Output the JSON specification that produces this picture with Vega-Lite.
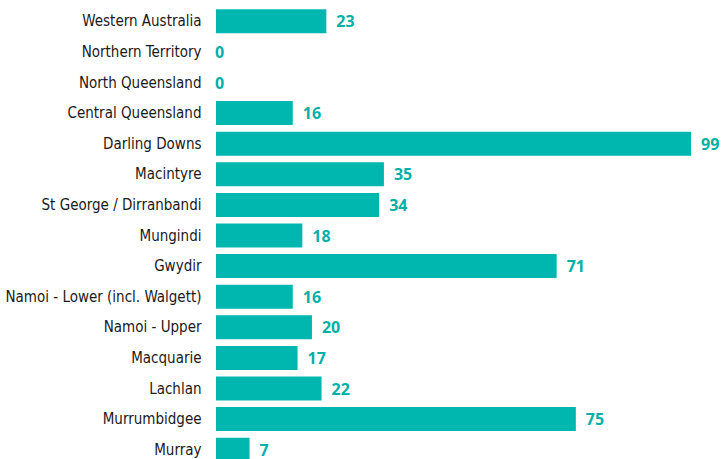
{
  "$schema": "https://vega.github.io/schema/vega-lite/v6.json",
  "width": 475,
  "height": 459,
  "autosize": {"type": "none"},
  "padding": {"left": 216, "top": 6, "right": 31, "bottom": 0},
  "background": "white",
  "config": {"view": {"stroke": null}},
  "data": {
    "values": [
      {"region": "Western Australia", "value": 23},
      {"region": "Northern Territory", "value": 0},
      {"region": "North Queensland", "value": 0},
      {"region": "Central Queensland", "value": 16},
      {"region": "Darling Downs", "value": 99},
      {"region": "Macintyre", "value": 35},
      {"region": "St George / Dirranbandi", "value": 34},
      {"region": "Mungindi", "value": 18},
      {"region": "Gwydir", "value": 71},
      {"region": "Namoi - Lower (incl. Walgett)", "value": 16},
      {"region": "Namoi - Upper", "value": 20},
      {"region": "Macquarie", "value": 17},
      {"region": "Lachlan", "value": 22},
      {"region": "Murrumbidgee", "value": 75},
      {"region": "Murray", "value": 7}
    ]
  },
  "encoding": {
    "y": {
      "field": "region",
      "type": "nominal",
      "sort": null,
      "scale": {"paddingInner": 0.215, "paddingOuter": 0.1075},
      "axis": {
        "title": null,
        "domain": false,
        "ticks": false,
        "labelPadding": 15,
        "labelFont": "DejaVu Sans Condensed",
        "labelFontSize": 15,
        "labelColor": "#1a1a1a",
        "labelLimit": 300
      }
    },
    "x": {
      "field": "value",
      "type": "quantitative",
      "scale": {"domain": [0, 99]},
      "axis": null
    }
  },
  "layer": [
    {"mark": {"type": "bar", "color": "#00B7AF"}},
    {
      "transform": [{"filter": "datum.value > 0"}],
      "mark": {"type": "text", "align": "left", "baseline": "middle", "dx": 10, "dy": 1, "font": "Open Sans", "fontWeight": "bold", "fontSize": 16, "color": "#00B0A8"},
      "encoding": {"text": {"field": "value", "type": "quantitative"}}
    },
    {
      "transform": [{"filter": "datum.value == 0"}],
      "mark": {"type": "text", "align": "left", "baseline": "middle", "dx": -1, "dy": 1, "font": "Open Sans", "fontWeight": "bold", "fontSize": 16, "color": "#00B0A8"},
      "encoding": {"text": {"field": "value", "type": "quantitative"}}
    }
  ]
}
